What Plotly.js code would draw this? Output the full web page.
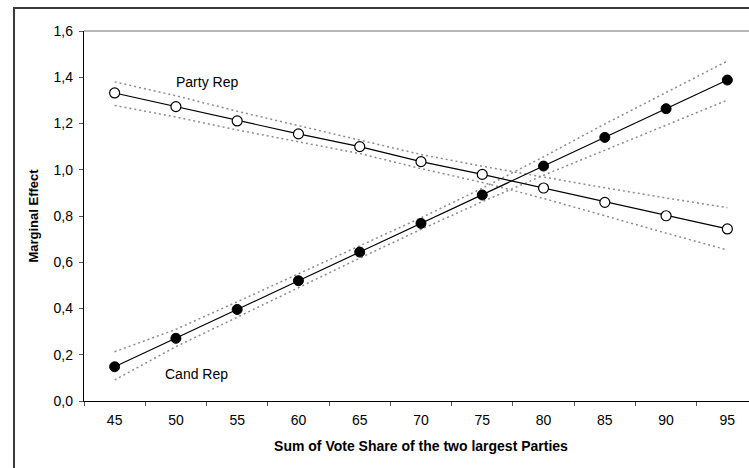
<!DOCTYPE html>
<html>
<head>
<meta charset="utf-8">
<script src="https://cdn.plot.ly/plotly-3.0.1.min.js"></script>
<style>
html, body { margin:0; padding:0; width:749px; height:468px; overflow:hidden; background:#fff; }
#frame { position:absolute; left:13px; top:7px; width:1000px; height:1000px; border-left:2px solid #3a3a3a; border-top:2px solid #3a3a3a; box-sizing:border-box; }
#chart { position:absolute; left:0; top:0; width:800px; height:500px; }
</style>
</head>
<body>
<div id="frame"></div>
<div id="chart"></div>
<script>
// Data
var voteShare = ['45','50','55','60','65','70','75','80','85','90','95'];
var partyRep      = [1.332, 1.273, 1.211, 1.155, 1.100, 1.035, 0.980, 0.921, 0.859, 0.801, 0.744];
var partyRepUpper = [1.380, 1.320, 1.253, 1.190, 1.130, 1.066, 1.015, 0.967, 0.922, 0.878, 0.836];
var partyRepLower = [1.278, 1.228, 1.172, 1.122, 1.070, 1.005, 0.945, 0.876, 0.800, 0.726, 0.653];
var candRep       = [0.148, 0.271, 0.396, 0.520, 0.644, 0.768, 0.891, 1.016, 1.140, 1.264, 1.388];
var candRepUpper  = [0.213, 0.310, 0.429, 0.549, 0.670, 0.792, 0.920, 1.056, 1.198, 1.334, 1.470];
var candRepLower  = [0.091, 0.235, 0.362, 0.490, 0.618, 0.742, 0.862, 0.976, 1.085, 1.194, 1.301];
var yTicks = [0, 0.2, 0.4, 0.6, 0.8, 1.0, 1.2, 1.4, 1.6];

var FONT = '"Liberation Sans", Arial, sans-serif';
var bandLine = {color:'#8c8c8c', width:1.5, dash:'2px,3px'};

function band(y) {
  return {x: voteShare, y: y, type:'scatter', mode:'lines', line: bandLine, hoverinfo:'skip', showlegend:false};
}

var traces = [
  band(partyRepUpper), band(partyRepLower),
  band(candRepUpper), band(candRepLower),
  {x: voteShare, y: partyRep, type:'scatter', mode:'lines+markers', name:'Party Rep', showlegend:false,
   line:{color:'#000', width:1.2},
   marker:{symbol:'circle', size:10, color:'#fff', line:{color:'#000', width:1.2}}},
  {x: voteShare, y: candRep, type:'scatter', mode:'lines+markers', name:'Cand Rep', showlegend:false,
   line:{color:'#000', width:1.2},
   marker:{symbol:'circle', size:10, color:'#000', line:{color:'#000', width:1}}}
];

var layout = {
  width: 800, height: 500,
  margin: {l:84, t:31, r:42.4, b:99},
  paper_bgcolor: 'rgba(0,0,0,0)',
  plot_bgcolor: '#fff',
  separators: ', ',
  font: {family: FONT, size: 14, color:'#000'},
  xaxis: {
    type:'category', tickson:'boundaries', ticks:'outside', ticklen:4, tickcolor:'#555', tickwidth:1,
    showline:true, linecolor:'#000', linewidth:1.2, showgrid:false, zeroline:false,
    range:[-0.5, 10.5], ticklabelstandoff:6,
    tickfont:{family:FONT, size:14, color:'#000'},
    title:{text:'Sum of Vote Share of the two largest Parties', font:{family:FONT, size:14, color:'#000', weight:'bold'}, standoff:14}
  },
  yaxis: {
    range:[0, 1.6], tickvals: yTicks, tickformat:'.1f', ticks:'outside', ticklen:4, tickcolor:'#555', tickwidth:1,
    showline:true, linecolor:'#000', linewidth:1.2, showgrid:false, zeroline:false, ticklabelstandoff:3,
    tickfont:{family:FONT, size:14, color:'#000'},
    title:{text:'Marginal Effect', font:{family:FONT, size:13, color:'#000', weight:'bold'}, standoff:12}
  },
  shapes: [
    {type:'line', xref:'paper', yref:'paper', x0:0, x1:1, y0:1, y1:1, line:{color:'#a0a0a0', width:1.5}},
    {type:'line', xref:'paper', yref:'paper', x0:1, x1:1, y0:0, y1:1, line:{color:'#a0a0a0', width:1.5}}
  ],
  annotations: [
    {text:'Party Rep', xref:'x', yref:'y', x:1.51, y:1.379, showarrow:false, font:{family:FONT, size:14, color:'#000'}},
    {text:'Cand Rep', xref:'x', yref:'y', x:1.33, y:0.117, showarrow:false, font:{family:FONT, size:14, color:'#000'}}
  ]
};

Plotly.newPlot('chart', traces, layout, {displayModeBar:false, staticPlot:true});
</script>
</body>
</html>
